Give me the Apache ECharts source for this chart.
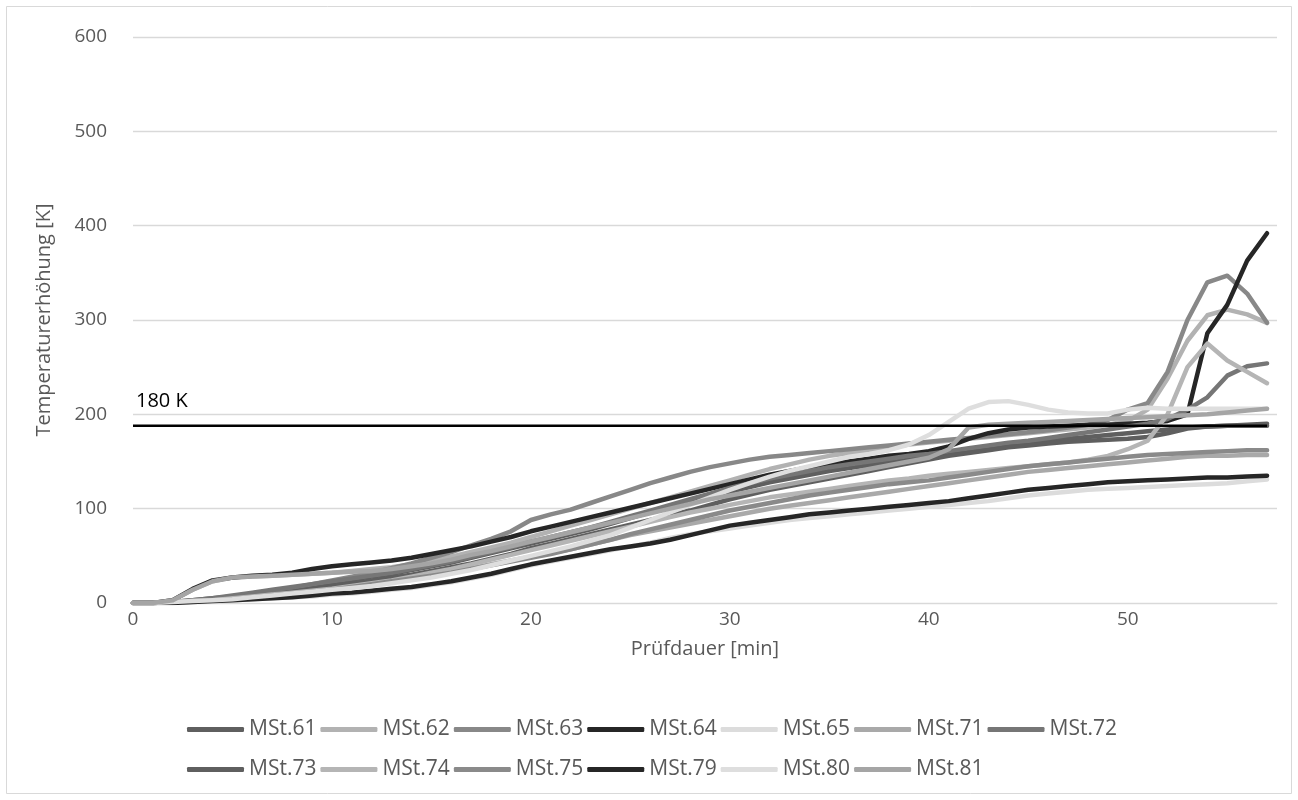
<!DOCTYPE html>
<html>
<head>
<meta charset="utf-8">
<script src="https://cdn.jsdelivr.net/npm/echarts@6/dist/echarts.min.js"></script>
<style>
html,body{margin:0;padding:0;background:#fff;}
#chart{width:1298px;height:800px;}
</style>
</head>
<body>
<div id="chart"></div>
<script>
// Prüfdauer [min]
const minutes = [0,1,2,3,4,5,6,7,8,9,10,11,12,13,14,15,16,17,18,19,20,21,22,23,24,25,26,27,28,29,30,31,32,33,34,35,36,37,38,39,40,41,42,43,44,45,46,47,48,49,50,51,52,53,54,55,56,57];
const xTicks = [0,10,20,30,40,50];
const yTicks = [0,100,200,300,400,500,600];
const limitValue = 188;
const limitLabel = '180 K';

const seriesNames = ['MSt.61','MSt.62','MSt.63','MSt.64','MSt.65','MSt.71','MSt.72','MSt.73','MSt.74','MSt.75','MSt.79','MSt.80','MSt.81'];
const seriesColors = ['#5f5f5f','#b2b2b2','#888888','#262626','#dcdcdc','#a9a9a9','#767676','#5f5f5f','#b5b5b5','#8a8a8a','#262626','#dedede','#a5a5a5'];

const mst61 = [0,0,1,3,5,7,10,13,16,19, 22,25,28,31,35,39,43,48,53,58, 63,68,73,78,84,90,96,101,106,112, 118,123,128,132,136,140,143,146,149,152, 155,158,161,164,167,170,172,174,176,178, 180,182,184,186,187,188,188,188];
const mst62 = [0,0,3,14,23,27,28,29,30,31, 32,34,36,38,41,45,49,54,59,64, 70,76,82,88,94,100,106,112,118,124, 130,136,142,147,152,156,159,162,165,168, 170,172,174,176,178,180,182,184,186,189, 193,205,238,278,305,311,306,297];
const mst63 = [0,0,1,2,4,6,9,12,16,20, 24,28,32,37,42,48,54,61,68,76, 88,94,99,106,113,120,127,133,139,144, 148,152,155,157,159,161,163,165,167,169, 171,173,175,177,179,181,183,186,189,194, 205,212,245,300,340,347,328,297];
const mst64 = [0,0,3,15,24,27,29,30,32,36, 39,41,43,45,48,52,56,60,65,70, 76,81,86,91,96,101,106,111,116,121, 126,131,136,140,144,147,150,153,156,158, 161,166,174,180,184,186,187,188,189,189, 190,191,193,200,286,316,363,392];
const mst65 = [0,0,0,1,2,3,4,5,6,7, 9,10,12,14,16,19,22,26,30,35, 40,44,48,52,56,60,64,69,73,76, 79,82,85,88,90,92,94,96,98,100, 102,104,106,108,111,114,116,118,120,121, 122,123,124,125,126,127,129,131];
const mst71 = [0,0,1,2,3,5,7,9,11,13, 15,18,21,24,27,30,33,37,41,45, 49,53,57,62,67,72,76,80,84,88, 92,96,100,103,106,109,112,115,118,121, 124,127,130,133,136,139,141,143,145,147, 149,151,153,155,156,156,157,157];
const mst72 = [0,0,1,3,5,8,11,14,17,20, 23,26,29,32,36,40,44,49,54,59, 65,70,75,80,86,92,98,104,110,116, 122,127,132,136,140,144,147,150,153,156, 158,161,164,167,170,172,175,178,181,184, 187,190,195,205,218,241,251,254];
const mst73 = [0,0,1,2,3,5,7,9,12,15, 18,21,24,27,30,34,38,42,47,52, 58,63,68,73,78,83,88,93,98,104, 110,115,120,124,128,132,136,140,144,148, 152,156,159,162,165,167,169,171,172,173, 174,176,180,185,187,188,189,190];
const mst74 = [0,0,1,2,3,5,7,9,11,13, 15,18,21,24,28,32,36,41,46,51, 56,61,66,71,76,81,86,91,96,100, 104,108,112,115,118,121,124,127,130,132, 135,137,139,141,143,145,147,149,152,156, 163,172,200,250,275,257,245,233];
const mst75 = [0,0,1,2,3,4,6,8,10,12, 14,17,20,23,26,29,32,36,40,44, 48,52,57,62,67,73,78,83,88,93, 98,102,106,110,114,117,120,123,126,128, 130,133,136,139,142,145,147,149,151,153, 155,157,158,159,160,161,162,162];
const mst79 = [0,0,0,1,2,3,4,5,6,8, 10,11,13,15,17,20,23,27,31,36, 41,45,49,53,57,60,63,67,72,77, 82,85,88,91,94,96,98,100,102,104, 106,108,111,114,117,120,122,124,126,128, 129,130,131,132,133,133,134,135];
const mst80 = [0,0,1,2,3,4,6,8,10,12, 14,16,18,21,24,27,31,35,40,45, 50,55,60,66,72,80,88,96,104,112, 120,127,134,140,145,150,155,158,162,168, 178,192,206,213,214,210,205,202,201,201, 205,207,206,206,206,206,206,206];
const mst81 = [0,0,3,14,23,27,28,29,30,31, 32,33,34,36,39,42,46,51,55,60, 65,70,75,80,85,90,95,100,105,110, 114,118,122,126,130,134,138,142,146,150, 154,163,186,189,190,191,192,193,194,195, 196,197,198,199,200,202,204,206];

const seriesValues = [mst61,mst62,mst63,mst64,mst65,mst71,mst72,mst73,mst74,mst75,mst79,mst80,mst81];

const FONT = '"Open Sans", "Liberation Sans", sans-serif';
const chart = echarts.init(document.getElementById('chart'), null, {renderer:'canvas'});

const lineSeries = seriesNames.map((name, i) => ({
  name: name,
  type: 'line',
  data: minutes.map((m, k) => [m, seriesValues[i][k]]),
  showSymbol: false,
  symbol: 'none',
  smooth: false,
  lineStyle: { width: 4.5, color: seriesColors[i], cap: 'round', join: 'round' },
  itemStyle: { color: seriesColors[i] },
  emphasis: { disabled: true },
  animation: false
}));

lineSeries.push({
  name: 'limit',
  type: 'line',
  data: minutes.map(m => [m, limitValue]),
  showSymbol: false,
  symbol: 'none',
  lineStyle: { width: 2.5, color: '#000000' },
  itemStyle: { color: '#000000' },
  emphasis: { disabled: true },
  animation: false,
  z: 3
});

const legendCommon = {
  icon: 'roundRect',
  itemWidth: 57,
  itemHeight: 5,
  itemGap: 4,
  left: 182,
  orient: 'horizontal',
  textStyle: { color: '#595959', fontSize: 21, fontFamily: FONT, width: 68 },
  selectedMode: false
};

const option = {
  animation: false,
  backgroundColor: '#ffffff',
  grid: { left: 133, right: 21, top: 37, bottom: 197, containLabel: false },
  xAxis: {
    type: 'value',
    min: 0,
    max: 57.5,
    interval: 10,
    name: 'Prüfdauer [min]',
    nameLocation: 'middle',
    nameGap: 36,
    nameTextStyle: { color: '#595959', fontSize: 20, fontFamily: FONT },
    axisLine: { show: true, lineStyle: { color: '#d9d9d9', width: 1 } },
    axisTick: { show: false },
    splitLine: { show: false },
    axisLabel: {
      color: '#595959', fontSize: 19, fontFamily: FONT, margin: 7,
      customValues: xTicks
    }
  },
  yAxis: {
    type: 'value',
    min: 0,
    max: 600,
    interval: 100,
    name: 'Temperaturerhöhung [K]',
    nameLocation: 'middle',
    nameGap: 79,
    nameRotate: 90,
    nameTextStyle: { color: '#595959', fontSize: 20, fontFamily: FONT },
    axisLine: { show: false },
    axisTick: { show: false },
    splitLine: { show: true, lineStyle: { color: '#d9d9d9', width: 1.3 } },
    axisLabel: { color: '#595959', fontSize: 19, fontFamily: FONT, margin: 26 }
  },
  legend: [
    Object.assign({}, legendCommon, { top: 714, data: seriesNames.slice(0, 7) }),
    Object.assign({}, legendCommon, { top: 754, data: seriesNames.slice(7) })
  ],
  graphic: [
    {
      type: 'rect',
      shape: { x: 6.5, y: 6.5, width: 1285, height: 787 },
      style: { fill: 'none', stroke: '#d9d9d9', lineWidth: 1 },
      silent: true, z: -10
    },
    {
      type: 'text',
      left: 136,
      top: 391,
      style: { text: limitLabel, fill: '#000000', font: '20px ' + FONT },
      silent: true
    }
  ],
  series: lineSeries
};

chart.setOption(option);
</script>
</body>
</html>
